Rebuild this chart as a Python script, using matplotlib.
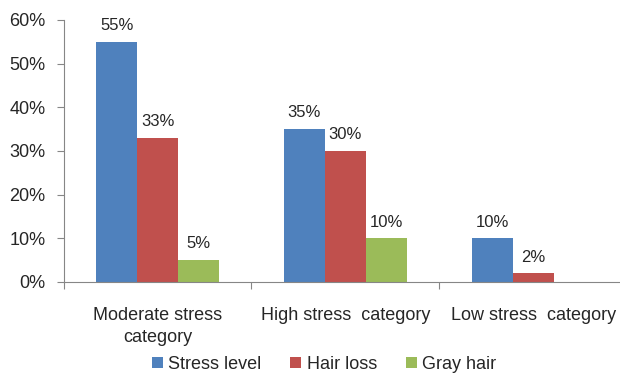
import numpy as np
import matplotlib.pyplot as plt
from matplotlib.ticker import FuncFormatter

plt.rcParams['font.family'] = ['Liberation Sans', 'DejaVu Sans']

categories = ['Moderate stress\ncategory', 'High stress  category', 'Low stress  category']
series = ['Stress level', 'Hair loss', 'Gray hair']
stress_level = [55, 35, 10]
hair_loss = [33, 30, 2]
gray_hair = [5, 10, 0]
colors = ['#4F81BD', '#C0504D', '#9BBB59']

values = [stress_level, hair_loss, gray_hair]

fig = plt.figure(figsize=(6.2, 3.75), dpi=100)
ax = fig.add_axes([0.1026, 0.248, 0.909, 0.699])

x = np.arange(len(categories)) + 0.5
w = 0.218
for i, (name, vals) in enumerate(zip(series, values)):
    pos = x + (i - 1) * w
    ax.bar(pos, vals, width=w, color=colors[i], label=name, zorder=2)
    for p, v in zip(pos, vals):
        if v > 0:
            ax.text(p, v + 2, f'{v}%', ha='center', va='bottom',
                    fontsize=12, color='#262626')

ax.set_xlim(0, 3)
ax.set_ylim(0, 60)
ax.set_yticks(np.arange(0, 61, 10))
ax.yaxis.set_major_formatter(FuncFormatter(lambda v, _: f'{v:.0f}%'))

ax.set_xticks([0, 1, 2, 3])
ax.set_xticklabels([])
ax.set_xticks(x, minor=True)
ax.set_xticklabels(categories, minor=True, fontsize=13, color='#262626',
                   linespacing=1.4)
ax.tick_params(axis='x', which='minor', length=0, pad=18)
ax.tick_params(axis='x', which='major', length=5, color='#868686')
ax.tick_params(axis='y', length=5, color='#868686', pad=8, labelsize=13,
               labelcolor='#262626')

for s in ['top', 'right']:
    ax.spines[s].set_visible(False)
for s in ['left', 'bottom']:
    ax.spines[s].set_color('#868686')

ax.legend(loc='center', bbox_to_anchor=(0.462, -0.315), ncol=3, frameon=False,
          fontsize=13, handlelength=0.6, handleheight=0.6, handletextpad=0.3,
          columnspacing=1.6, labelcolor='#262626')

fig.savefig('out.png', dpi=100)
